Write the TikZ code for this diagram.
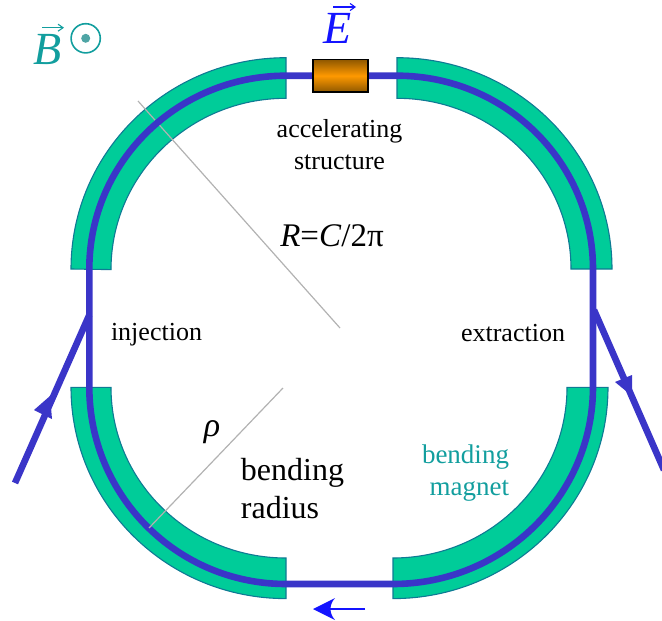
\documentclass[tikz,border=0pt]{standalone}
\usepackage{fontspec}
\usetikzlibrary{arrows.meta}
\setmainfont{Liberation Serif}
\definecolor{beamc}{HTML}{3A35C8}
\definecolor{magc}{HTML}{00CC99}
\definecolor{magedge}{HTML}{0F7A94}
\definecolor{tealc}{HTML}{129E9E}
\definecolor{dotc}{HTML}{4FA5A5}
\definecolor{arrowc}{HTML}{1414FF}
\definecolor{boxc}{HTML}{FF9900}
\definecolor{boxd}{HTML}{8F5800}
\definecolor{radc}{HTML}{B2B2B2}
\tikzset{
  magnet/.style={fill=magc,draw=magedge,line width=1.1pt,line join=miter},
  beam/.style={draw=beamc,line width=6.6pt},
  radline/.style={draw=radc,line width=1.2pt},
  lab/.style={inner sep=0pt,font=\fontsize{26}{32}\selectfont,align=center},
  vecarrow/.style={line width=1.1pt,-{Straight Barb[length=5pt,width=7pt]}},
}
\begin{document}
\begin{tikzpicture}[x=1pt,y=-1pt]
\useasboundingbox (0,0) rectangle (662,621);
% magnets
\draw[magnet] (71,269) arc[start angle=180,end angle=270,x radius=215,y radius=211.3] -- (286,98.3) arc[start angle=270,end angle=180,x radius=175,y radius=171.3] -- cycle;
\draw[magnet] (397,57.7) arc[start angle=270,end angle=360,x radius=215,y radius=211.3] -- (571,269) arc[start angle=360,end angle=270,x radius=174,y radius=170.7] -- cycle;
\draw[magnet] (71,387.3) arc[start angle=180,end angle=90,x radius=215,y radius=211.3] -- (286,558) arc[start angle=90,end angle=180,x radius=175,y radius=170.7] -- cycle;
\draw[magnet] (608,387.3) arc[start angle=0,end angle=90,x radius=215,y radius=211.3] -- (393,558) arc[start angle=90,end angle=0,x radius=174,y radius=170.7] -- cycle;
% grey radii under the beam
\coordinate (ra) at (138,101);
\coordinate (rb) at (340,328);
\coordinate (rc) at (283,388);
\coordinate (rd) at (149,528);
\draw[radline] (ra) -- (rb);
% beam
\draw[beam] (89.3,387) -- (89.3,269) arc[start angle=180,end angle=270,x radius=196.7,y radius=193.3] -- (397,75.7) arc[start angle=270,end angle=360,x radius=196,y radius=193.3] -- (593,387) arc[start angle=0,end angle=90,x radius=200,y radius=197] -- (286,584) arc[start angle=90,end angle=180,x radius=196.7,y radius=197];
\draw[radline] (rc) -- (rd);
% injection / extraction
\draw[beam,line cap=butt] (15,483) -- (89.3,315);
\fill[beamc] (50,396) -- (52,419) -- (34,410) -- cycle;
\draw[beam,line cap=butt] (594,310) -- (664,470);
\fill[beamc] (632,396) -- (615,382) -- (632,375) -- cycle;
% accelerating structure
\node[draw=black,line width=1.4pt,minimum width=55pt,minimum height=32.5pt,inner sep=0pt,top color=boxd,bottom color=boxd,middle color=boxc] (acc) at (340.3,75.7) {};
% direction arrow
\coordinate (da) at (365,609);
\coordinate (db) at (313,609);
\draw[arrowc,line width=2pt] (da) -- (325,609);
\fill[arrowc] (db) -- (335,598) .. controls (329,605) and (329,613) .. (335,620) -- cycle;
% labels
\node[lab] (accl) at (339.5,144.5) {accelerating\\structure};
\node[lab,font=\fontsize{33}{36}\selectfont] (rr) at (332,236) {\textit{R}=\textit{C}/2π};
\node[lab] (inj) at (156.5,335) {injection};
\node[lab] (ext) at (513,333.5) {extraction};
\node[lab,font=\fontsize{32}{38}\selectfont,align=left] (bendr) at (292.5,488.5) {bending\\radius};
\node[lab,text=tealc,align=right,font=\fontsize{27}{32}\selectfont] (bm) at (465.5,473) {bending\\magnet};
\node[lab,font=\fontsize{34}{34}\selectfont\itshape] (rho) at (212,432) {ρ};
% B and E
\node[lab,text=tealc,font=\fontsize{46}{46}\selectfont\itshape] (bb) at (48,50) {B};
\coordinate (ba) at (42,27.7);
\coordinate (bc) at (64,27.7);
\draw[tealc,vecarrow] (ba) -- (bc);
\draw[tealc,line width=1.6pt] (85.7,38.3) circle (14.6);
\fill[dotc] (85.7,38.3) circle (4.5);
\node[lab,text=arrowc,font=\fontsize{46}{46}\selectfont\itshape] (ee) at (337.5,28.5) {E};
\coordinate (ea) at (333,7);
\coordinate (ec) at (356,7);
\draw[arrowc,vecarrow] (ea) -- (ec);
\end{tikzpicture}
\end{document}
